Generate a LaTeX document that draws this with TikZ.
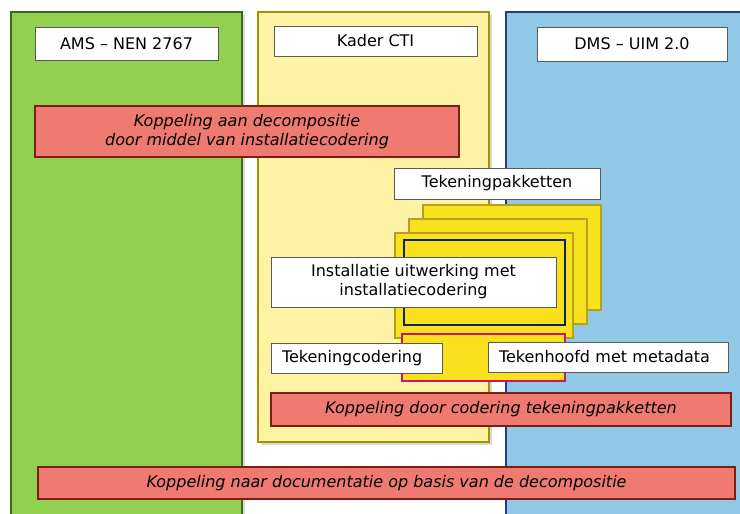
\documentclass[tikz,border=0pt]{standalone}
\usepackage{fontspec}
\setmainfont{DejaVu Sans}
\usetikzlibrary{positioning, shadows}
\definecolor{amsGreen}{HTML}{92D050}
\definecolor{amsGreenLine}{HTML}{3B6A1E}
\definecolor{ctiYellow}{HTML}{FEF3A4}
\definecolor{ctiYellowLine}{HTML}{A39300}
\definecolor{dmsBlue}{HTML}{90C8E6}
\definecolor{dmsBlueLine}{HTML}{1F3D85}
\definecolor{linkRed}{HTML}{EE7A72}
\definecolor{linkRedLine}{HTML}{7E1D12}
\definecolor{pageYellow}{HTML}{F9E11D}
\definecolor{pageYellowLine}{HTML}{B5A21C}
\definecolor{navyLine}{HTML}{0A2466}
\definecolor{pinkLine}{HTML}{C8166E}
\definecolor{boxGrey}{HTML}{5A5A5A}
\tikzset{
    colshadow/.style={drop shadow={opacity=0.3, shadow xshift=2.5pt, shadow yshift=-2.5pt}},
    headbox/.style={draw=boxGrey, fill=white, line width=1pt, inner sep=0pt,
        font=\fontsize{16}{19}\selectfont, align=center},
    leftbox/.style={headbox, align=left},
    linkbox/.style={draw=linkRedLine, fill=linkRed, line width=1.6pt, inner sep=0pt,
        font=\fontsize{16}{19}\selectfont\itshape, align=center},
    pagebox/.style={draw=pageYellowLine, fill=pageYellow, line width=2pt}
}

\begin{document}
\begin{tikzpicture}[x=1pt, y=-1pt]
    \useasboundingbox (0,0) rectangle (740,514);
    \clip (0,0) rectangle (740,514);

    % --- KOLOMMEN ---
    \draw[colshadow, fill=amsGreen, draw=amsGreenLine, line width=1.5pt] (11,12) rectangle (242,530);
    \draw[colshadow, fill=ctiYellow, draw=ctiYellowLine, line width=1.5pt] (258,12) rectangle (489,442);
    \draw[colshadow, fill=dmsBlue, draw=dmsBlueLine, line width=1.5pt] (506,12) rectangle (760,530);

    % Kolomkoppen
    \node[headbox, minimum width=183pt, minimum height=33pt] (ams) at (126.5,43.5) {AMS – NEN 2767};
    \node[headbox, minimum width=203pt, minimum height=30pt] (cti) at (375.5,41) {Kader CTI};
    \node[headbox, minimum width=190pt, minimum height=34pt] (dms) at (632,44) {DMS – UIM 2.0};

    % --- KOPPELING DECOMPOSITIE ---
    \node[linkbox, minimum width=424pt, minimum height=51pt] (koppelDecomp) at (247,131.5)
        {Koppeling aan decompositie\\door middel van installatiecodering};

    % --- TEKENINGPAKKETTEN ---
    \node[headbox, minimum width=206pt, minimum height=31pt] (pakketten) at (497,183.5) {Tekeningpakketten};

    % Gestapelde tekeningen (achter naar voor)
    \foreach \dx in {28,14,0} {
        \draw[pagebox] (395+\dx,233-\dx) rectangle (573+\dx,338-\dx);
    }
    \draw[draw=navyLine, line width=1.8pt] (404,240) rectangle (565,325);
    \draw[fill=pageYellow, draw=pinkLine, line width=1.8pt] (402,334) rectangle (565,381);

    \node[headbox, minimum width=285pt, minimum height=50pt] (uitwerking) at (413.5,282)
        {Installatie uitwerking met\\installatiecodering};
    \node[leftbox, minimum width=171pt, minimum height=30pt, text width=149pt] (tekcodering) at (356.5,358) {Tekeningcodering};
    \node[leftbox, minimum width=240pt, minimum height=30pt, text width=218pt] (tekhoofd) at (608,357) {Tekenhoofd met metadata};

    % --- KOPPELINGEN ONDER ---
    \node[linkbox, minimum width=460pt, minimum height=33pt] (koppelPakket) at (501,409.5)
        {Koppeling door codering tekeningpakketten};
    \node[linkbox, minimum width=697pt, minimum height=32pt] (koppelDoc) at (386.5,483)
        {Koppeling naar documentatie op basis van de decompositie};

\end{tikzpicture}
\end{document}
